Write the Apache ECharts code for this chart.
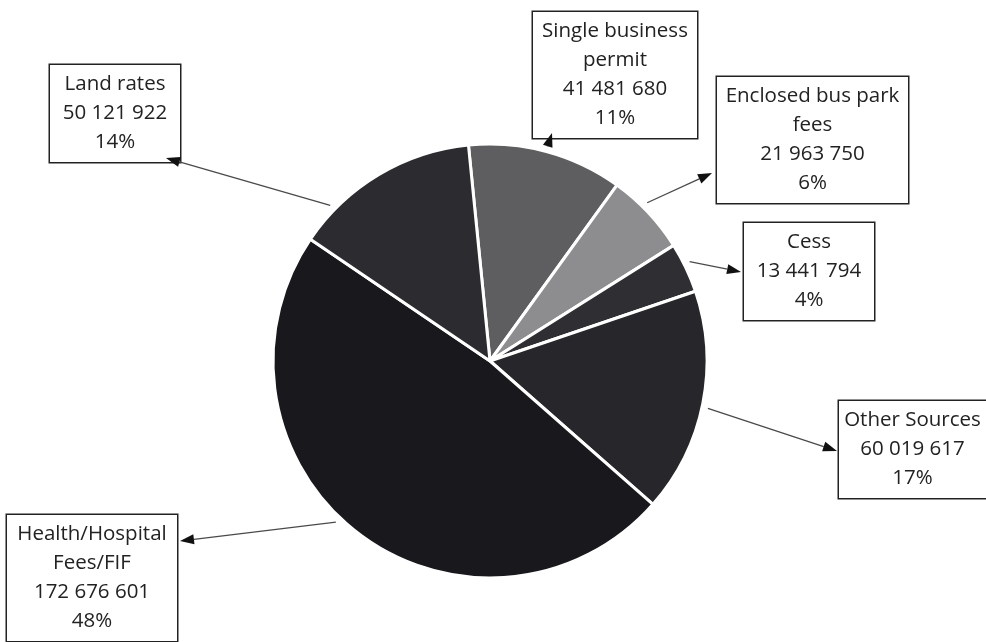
<!DOCTYPE html>
<html>
<head>
<meta charset="utf-8">
<script src="https://cdn.jsdelivr.net/npm/echarts@6/dist/echarts.min.js"></script>
<style>
  html, body { margin: 0; padding: 0; background: #fff; }
  #chart { width: 986px; height: 642px; }
</style>
</head>
<body>
<div id="chart"></div>
<script>
// slices, clockwise from the top
var names = ['Single business\npermit', 'Enclosed bus park\nfees', 'Cess', 'Other Sources', 'Health/Hospital\nFees/FIF', 'Land rates'];
var values = [41481680, 21963750, 13441794, 60019617, 172676601, 50121922];
var percentLabels = ['11%', '6%', '4%', '17%', '48%', '14%'];
var colors = ['#5e5d60', '#8d8c8e', '#2f2e33', '#27262a', '#19181c', '#2c2b30'];

// label boxes (left, top, width), where each arrow points, and a nudge of its start along the arc
var boxes = [
  { x: 533, y: 12, w: 164, tip: [552, 133], nudge: 0 },
  { x: 717, y: 77, w: 191, tip: [712, 173], nudge: -2 },
  { x: 744, y: 223, w: 130, tip: [741, 272], nudge: -1 },
  { x: 839, y: 401, w: 147, tip: [837, 451], nudge: 1 },
  { x: 7, y: 515, w: 170, tip: [180, 541], nudge: 6 },
  { x: 50, y: 65, w: 130, tip: [166, 158], nudge: -15 }
];

var cx = 490, cy = 361, r = 217;
var startDeg = -5.7; // clockwise from 12 o'clock

function fmt(v) {
  return String(v).replace(/\B(?=(\d{3})+(?!\d))/g, ' ');
}

// arrows from each slice edge to its box
var total = values.reduce(function (a, b) { return a + b; }, 0);
var arrows = [];
var acc = 0;
values.forEach(function (v, i) {
  var mid = startDeg + (acc + v / 2) / total * 360 + boxes[i].nudge;
  acc += v;
  var a = mid * Math.PI / 180;
  var sx = cx + (r + 6) * Math.sin(a);
  var sy = cy - (r + 6) * Math.cos(a);
  var tx = boxes[i].tip[0], ty = boxes[i].tip[1];
  var ang = Math.atan2(ty - sy, tx - sx);
  var hl = 14, hw = 5;
  var bx = tx - hl * Math.cos(ang), by = ty - hl * Math.sin(ang);
  arrows.push({
    type: 'line', silent: true, z: 10,
    shape: { x1: sx, y1: sy, x2: bx, y2: by },
    style: { stroke: '#4a4a4a', lineWidth: 1.3 }
  });
  arrows.push({
    type: 'polygon', silent: true, z: 10,
    shape: { points: [[tx, ty], [bx - hw * Math.sin(ang), by + hw * Math.cos(ang)], [bx + hw * Math.sin(ang), by - hw * Math.cos(ang)]] },
    style: { fill: '#111' }
  });
});

var chart = echarts.init(document.getElementById('chart'));
chart.setOption({
  backgroundColor: '#fff',
  animation: false,
  graphic: arrows,
  series: [{
    type: 'pie',
    center: [cx, cy],
    radius: r,
    startAngle: 90 - startDeg,
    clockwise: true,
    avoidLabelOverlap: false,
    emphasis: { disabled: true },
    itemStyle: { borderColor: '#fff', borderWidth: 3 },
    data: names.map(function (n, i) {
      return { name: n, value: values[i], itemStyle: { color: colors[i] }, label: { width: boxes[i].w } };
    }),
    label: {
      show: true,
      formatter: function (p) {
        return p.name + '\n' + fmt(p.value) + '\n' + percentLabels[p.dataIndex];
      },
      fontFamily: '"Open Sans", sans-serif',
      fontSize: 20.5,
      lineHeight: 29,
      color: '#222',
      backgroundColor: '#fff',
      borderColor: '#222',
      borderWidth: 1.5,
      padding: [5, 0, 5, 0],
      align: 'center'
    },
    labelLine: { show: false },
    labelLayout: function (p) {
      var b = boxes[p.dataIndex];
      return { x: b.x + b.w / 2, y: b.y, align: 'center', verticalAlign: 'top' };
    }
  }]
});
</script>
</body>
</html>
